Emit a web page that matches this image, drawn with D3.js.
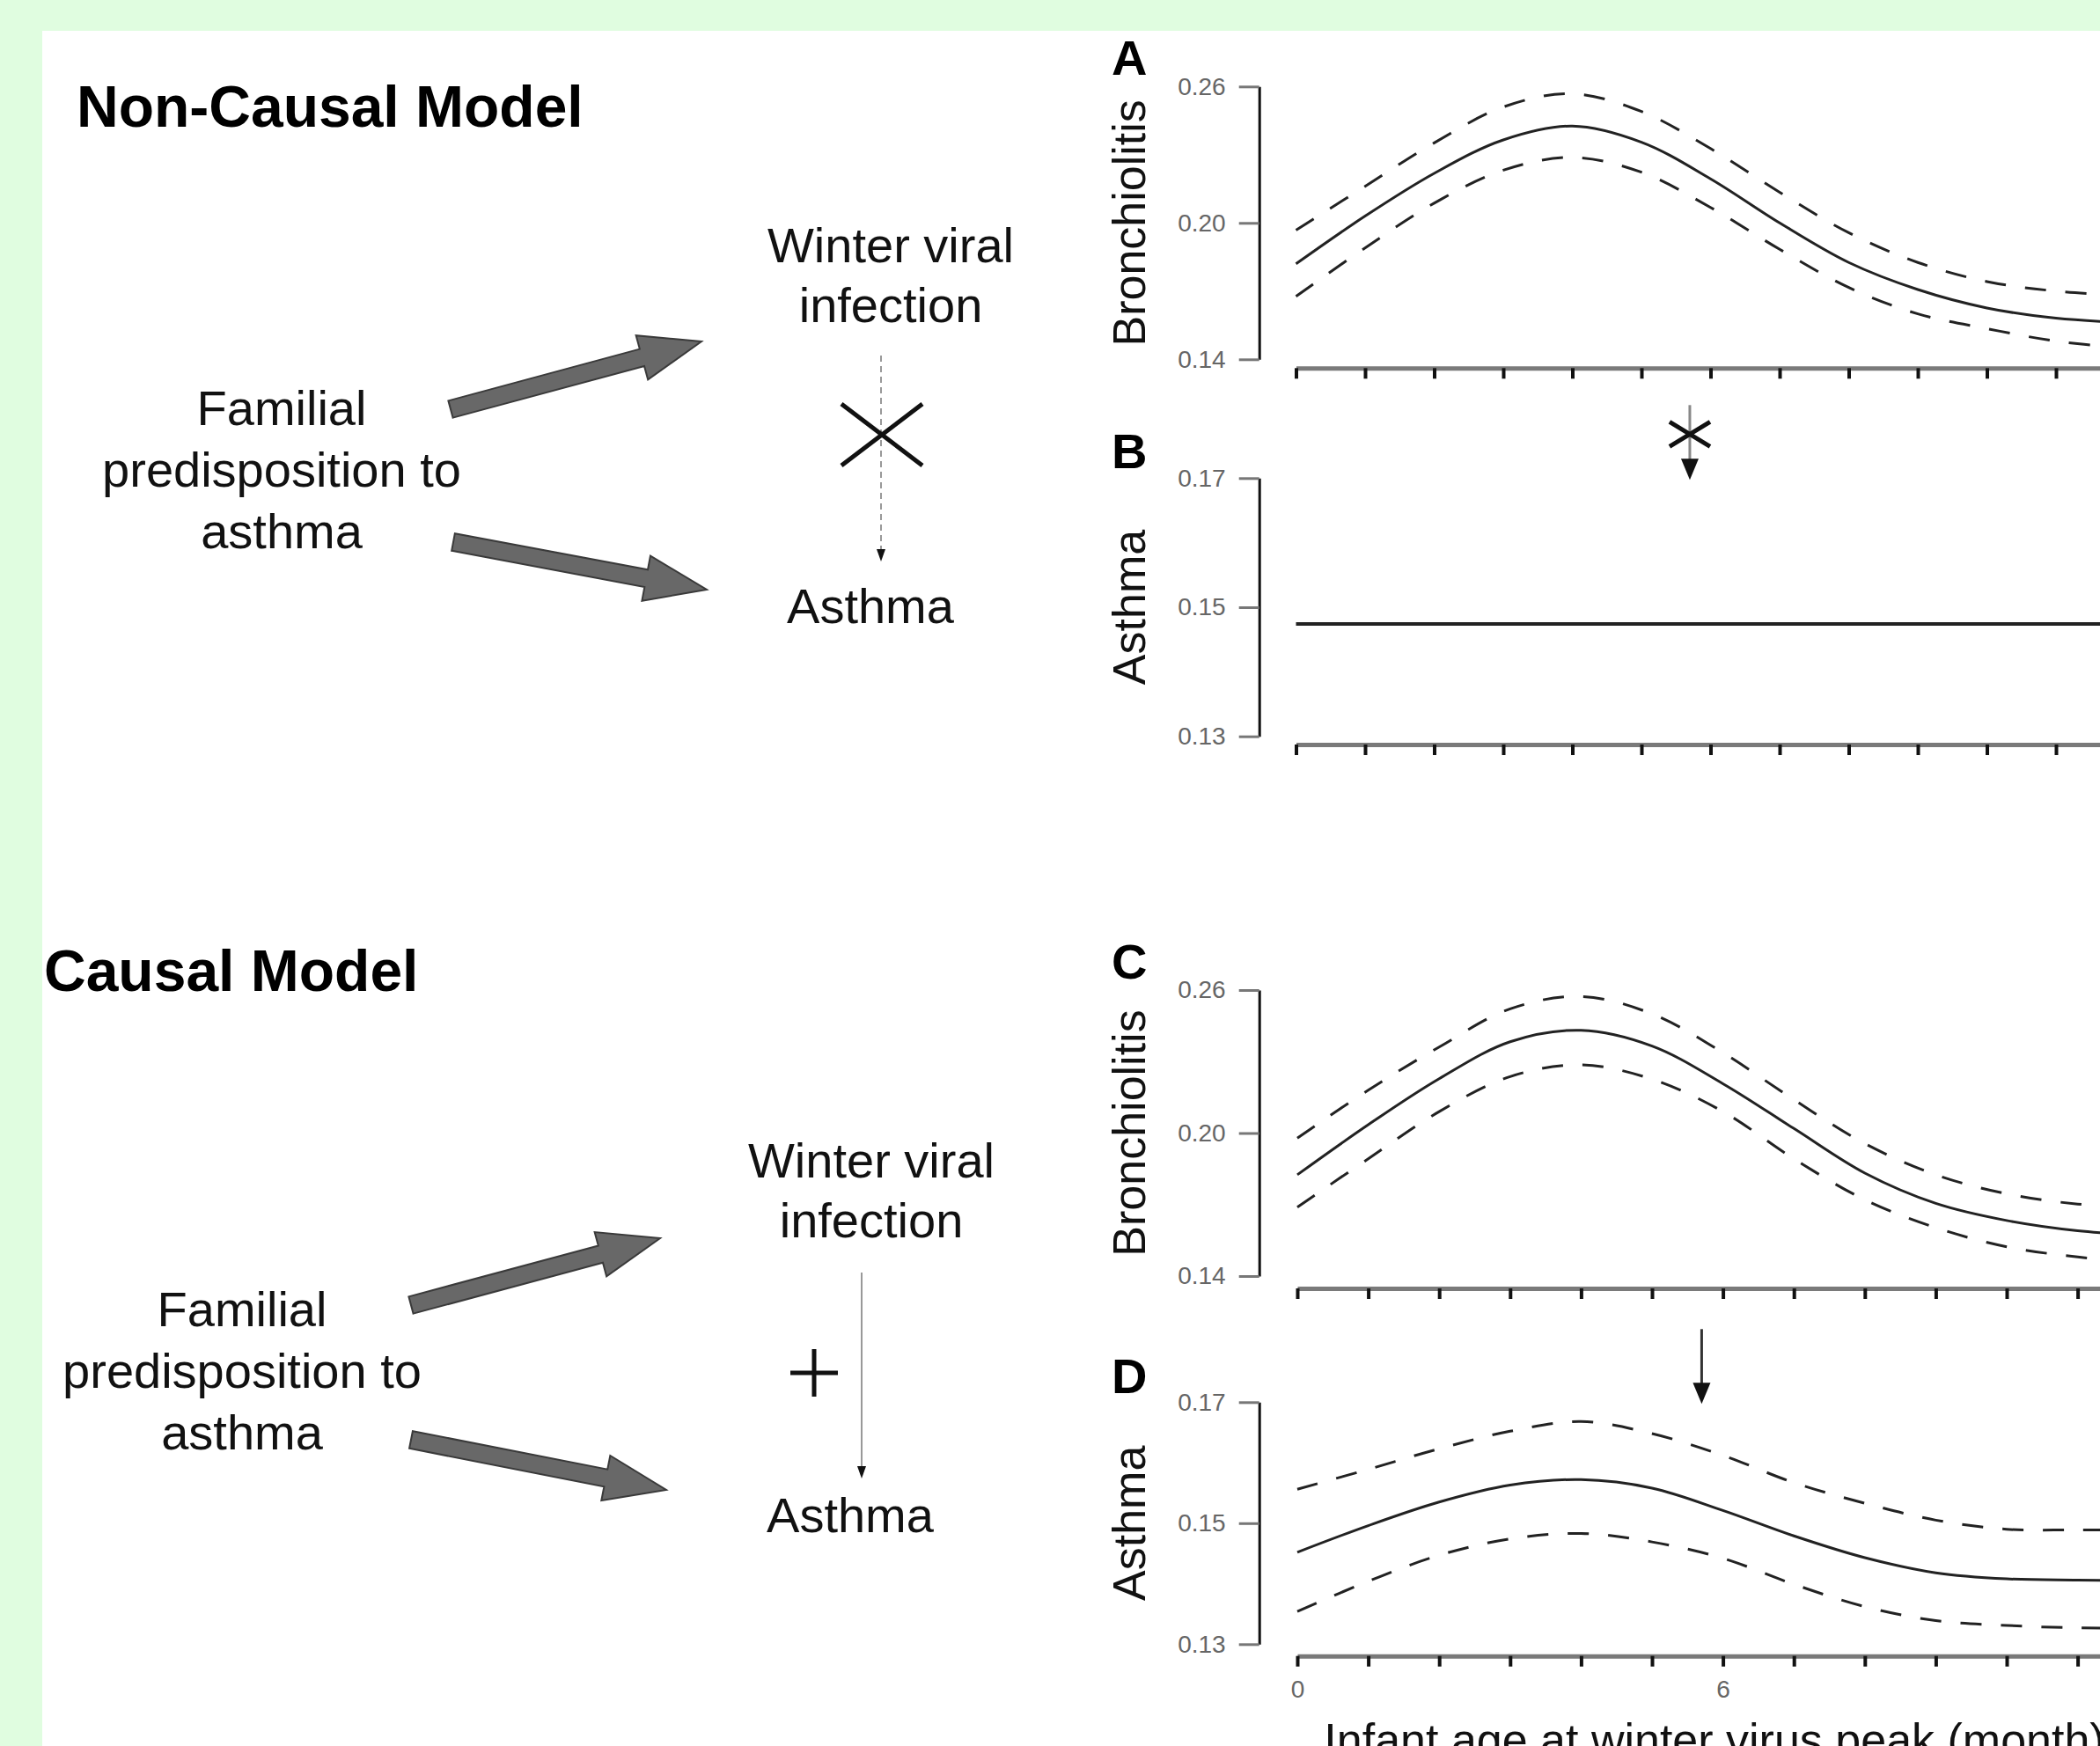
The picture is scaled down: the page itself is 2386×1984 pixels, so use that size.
<!DOCTYPE html>
<html>
<head>
<meta charset="utf-8">
<script src="https://cdn.jsdelivr.net/npm/d3@7"></script>
<style>
  html, body { margin: 0; padding: 0; background: #e0fde0; }
  svg { display: block; }
  text { font-family: "Liberation Sans", Arial, Helvetica, sans-serif; }
</style>
</head>
<body>
<div id="fig"></div>
<script>
// infant age at winter virus peak (months)
var months = [0, 1, 2, 3, 4, 5, 6, 7, 8, 9, 10, 11, 12]
var monthLabels = [0, 6]

// A: bronchiolitis, non-causal model (fit + dashed bounds)
var bronchA = [0.1820, 0.2030, 0.2218, 0.2365, 0.2426, 0.2355, 0.2194, 0.2000, 0.1826, 0.1707, 0.1626, 0.1581, 0.1562]
var bronchAUpper = [0.1968, 0.2161, 0.2352, 0.2510, 0.2568, 0.2490, 0.2327, 0.2135, 0.1957, 0.1826, 0.1742, 0.1700, 0.1680]
var bronchALower = [0.1677, 0.1890, 0.2087, 0.2232, 0.2288, 0.2223, 0.2068, 0.1884, 0.1716, 0.1600, 0.1535, 0.1480, 0.1450]

// B: asthma, non-causal model (flat)
var asthmaB = [0.1474, 0.1474, 0.1474, 0.1474, 0.1474, 0.1474, 0.1474, 0.1474, 0.1474, 0.1474, 0.1474, 0.1474, 0.1474]

// C: bronchiolitis, causal model
var bronchC = [0.1825, 0.2035, 0.2228, 0.2383, 0.2431, 0.2365, 0.2207, 0.2019, 0.1832, 0.1705, 0.1633, 0.1590, 0.1570]
var bronchCUpper = [0.1979, 0.2180, 0.2361, 0.2521, 0.2573, 0.2500, 0.2337, 0.2140, 0.1956, 0.1825, 0.1745, 0.1702, 0.1685]
var bronchCLower = [0.1689, 0.1892, 0.2090, 0.2237, 0.2286, 0.2226, 0.2090, 0.1892, 0.1720, 0.1603, 0.1523, 0.1480, 0.1455]

// D: asthma, causal model
var asthmaD = [0.1452, 0.1496, 0.1535, 0.1563, 0.1572, 0.1558, 0.1521, 0.1479, 0.1443, 0.1418, 0.1408, 0.1406, 0.1405]
var asthmaDUpper = [0.1556, 0.1589, 0.1623, 0.1652, 0.1668, 0.1648, 0.1612, 0.1567, 0.1533, 0.1505, 0.1490, 0.1489, 0.1489]
var asthmaDLower = [0.1354, 0.1404, 0.1447, 0.1474, 0.1483, 0.1469, 0.1442, 0.1399, 0.1362, 0.1339, 0.1331, 0.1327, 0.1326]

var bronchTicks = [0.14, 0.20, 0.26]
var asthmaTicks = [0.13, 0.15, 0.17]

// month of the winter virus peak marker
var peakMonth = 5.7

var width = 2386
var height = 1984

var svg = d3.select('#fig')
  .append('svg')
  .attr('width', width)
  .attr('height', height)

// white sheet over the green background
svg.append('rect')
  .attr('x', 48)
  .attr('y', 35)
  .attr('width', width - 48)
  .attr('height', height - 35)
  .attr('fill', '#ffffff')

var panels = [
  { letter: 'A', label: 'Bronchiolitis', ticks: bronchTicks, top: 98.3, bottom: 408.3, axisY: 418.3,
    x0: 1472.5, step: 78.5, fit: bronchA, upper: bronchAUpper, lower: bronchALower, letterY: 85, xLabels: false },
  { letter: 'B', label: 'Asthma', ticks: asthmaTicks, top: 543.3, bottom: 836.7, axisY: 846,
    x0: 1472.5, step: 78.5, fit: asthmaB, letterY: 532, xLabels: false, marker: 'cross' },
  { letter: 'C', label: 'Bronchiolitis', ticks: bronchTicks, top: 1125, bottom: 1450, axisY: 1464,
    x0: 1474, step: 80.6, fit: bronchC, upper: bronchCUpper, lower: bronchCLower, letterY: 1112, xLabels: false },
  { letter: 'D', label: 'Asthma', ticks: asthmaTicks, top: 1593.3, bottom: 1868.3, axisY: 1881.7,
    x0: 1474, step: 80.6, fit: asthmaD, upper: asthmaDUpper, lower: asthmaDLower, letterY: 1583, xLabels: true, marker: 'arrow' }
]

var axisX = 1430.7

panels.forEach(function (p) {
  var x = d3.scaleLinear()
    .domain([months[0], months[months.length - 1]])
    .range([p.x0, p.x0 + p.step * (months.length - 1)])
  var y = d3.scaleLinear()
    .domain([p.ticks[0], p.ticks[p.ticks.length - 1]])
    .range([p.bottom, p.top])

  // y axis: black spine, grey ticks and labels
  var ya = svg.append('g')
    .attr('transform', 'translate(' + axisX + ',0)')
    .call(d3.axisLeft(y)
      .tickValues(p.ticks)
      .tickFormat(d3.format('.2f'))
      .tickSize(23)
      .tickSizeOuter(0)
      .tickPadding(15))
  ya.select('.domain').attr('stroke', '#111').attr('stroke-width', 3)
  ya.selectAll('.tick line').attr('stroke', '#777').attr('stroke-width', 3)
  ya.selectAll('.tick text')
    .attr('fill', '#666')
    .style('font-size', '28px')
    .style('font-family', '"Liberation Sans", Arial, sans-serif')

  // x axis: thick grey line with small black ticks
  var xa = svg.append('g')
    .attr('transform', 'translate(0,' + p.axisY + ')')
    .call(d3.axisBottom(x)
      .tickValues(months)
      .tickSize(12)
      .tickSizeOuter(0)
      .tickPadding(15)
      .tickFormat(function (d) {
        return p.xLabels && monthLabels.indexOf(d) >= 0 ? d : ''
      }))
  xa.select('.domain').attr('stroke', '#7a7a7a').attr('stroke-width', 5)
  xa.selectAll('.tick line').attr('stroke', '#111').attr('stroke-width', 4)
  xa.selectAll('.tick text')
    .attr('fill', '#666')
    .style('font-size', '28px')
    .style('font-family', '"Liberation Sans", Arial, sans-serif')

  var line = d3.line()
    .x(function (d, i) { return x(months[i]) })
    .y(function (d) { return y(d) })
    .curve(d3.curveCatmullRom)

  if (p.upper) {
    [p.upper, p.lower].forEach(function (s) {
      svg.append('path')
        .datum(s)
        .attr('d', line)
        .attr('fill', 'none')
        .attr('stroke', '#222')
        .attr('stroke-width', 3)
        .attr('stroke-dasharray', '24,22')
    })
  }
  svg.append('path')
    .datum(p.fit)
    .attr('d', line)
    .attr('fill', 'none')
    .attr('stroke', '#222')
    .attr('stroke-width', p.upper ? 3 : 4)

  // panel letter
  svg.append('text')
    .attr('x', 1263)
    .attr('y', p.letterY)
    .attr('font-size', 56)
    .attr('font-weight', 'bold')
    .attr('fill', '#000')
    .text(p.letter)

  // y label
  svg.append('text')
    .attr('transform', 'translate(1301,' + ((p.top + p.bottom) / 2) + ') rotate(-90)')
    .attr('text-anchor', 'middle')
    .attr('font-size', 52)
    .attr('fill', '#111')
    .text(p.label)

  // winter virus peak marker
  if (p.marker) {
    var mx = x(peakMonth)
    var tipY = p.top + 2
    svg.append('line')
      .attr('x1', mx).attr('x2', mx)
      .attr('y1', tipY - 85).attr('y2', tipY - 18)
      .attr('stroke', p.marker === 'cross' ? '#888' : '#333')
      .attr('stroke-width', 3)
    svg.append('path')
      .attr('d', 'M' + (mx - 10) + ',' + (tipY - 24) + 'L' + (mx + 10) + ',' + (tipY - 24) + 'L' + mx + ',' + tipY + 'Z')
      .attr('fill', '#111')
    if (p.marker === 'cross') {
      var cy = tipY - 52
      svg.append('path')
        .attr('d', 'M' + (mx - 23) + ',' + (cy - 14) + 'L' + (mx + 23) + ',' + (cy + 14) +
                   'M' + (mx - 23) + ',' + (cy + 14) + 'L' + (mx + 23) + ',' + (cy - 14))
        .attr('stroke', '#111')
        .attr('stroke-width', 5)
    }
  }

  if (p.xLabels) {
    svg.append('text')
      .attr('x', 1948)
      .attr('y', 1995)
      .attr('text-anchor', 'middle')
      .attr('font-size', 52)
      .attr('fill', '#111')
      .text('Infant age at winter virus peak (month)')
  }
})

// ---- left-hand diagrams ----
function fatArrow (t, p) {
  var dx = p[0] - t[0]
  var dy = p[1] - t[1]
  var len = Math.hypot(dx, dy)
  var ux = dx / len
  var uy = dy / len
  var nx = -uy
  var ny = ux
  var w = 10
  var h = 26
  var L = 70
  var bx = p[0] - ux * L
  var by = p[1] - uy * L
  return [[t[0] + nx * w, t[1] + ny * w], [bx + nx * w, by + ny * w], [bx + nx * h, by + ny * h], p,
          [bx - nx * h, by - ny * h], [bx - nx * w, by - ny * w], [t[0] - nx * w, t[1] - ny * w]]
}

var diagrams = [
  { title: 'Non-Causal Model', titleX: 87, titleY: 144,
    famX: 320, famY: 483, virusX: 1012, virusY: 298, asthmaX: 989, asthmaY: 708,
    up: [[512, 465], [797, 388]], down: [[515, 616], [803, 670]],
    linkX: 1001, linkY1: 404, linkY2: 638, causal: false, signX: 1002, signY: 494 },
  { title: 'Causal Model', titleX: 50, titleY: 1126,
    famX: 275, famY: 1507, virusX: 990, virusY: 1338, asthmaX: 966, asthmaY: 1741,
    up: [[467, 1483], [750, 1407]], down: [[467, 1636], [757, 1693]],
    linkX: 979, linkY1: 1446, linkY2: 1680, causal: true, signX: 925, signY: 1560 }
]

diagrams.forEach(function (g) {
  svg.append('text')
    .attr('x', g.titleX)
    .attr('y', g.titleY)
    .attr('font-size', 66)
    .attr('font-weight', 'bold')
    .attr('fill', '#000')
    .text(g.title)

  var lines = [
    { x: g.famX, y: g.famY, t: 'Familial' },
    { x: g.famX, y: g.famY + 70, t: 'predisposition to' },
    { x: g.famX, y: g.famY + 140, t: 'asthma' },
    { x: g.virusX, y: g.virusY, t: 'Winter viral' },
    { x: g.virusX, y: g.virusY + 68, t: 'infection' },
    { x: g.asthmaX, y: g.asthmaY, t: 'Asthma' }
  ]
  svg.selectAll(null)
    .data(lines)
    .enter()
    .append('text')
    .attr('x', function (d) { return d.x })
    .attr('y', function (d) { return d.y })
    .attr('text-anchor', 'middle')
    .attr('font-size', 56)
    .attr('fill', '#111')
    .text(function (d) { return d.t })

  ;[g.up, g.down].forEach(function (a) {
    svg.append('polygon')
      .attr('points', fatArrow(a[0], a[1]).map(function (q) { return q.join(',') }).join(' '))
      .attr('fill', '#686868')
      .attr('stroke', '#3a3a3a')
      .attr('stroke-width', 2)
      .attr('stroke-linejoin', 'miter')
  })

  svg.append('line')
    .attr('x1', g.linkX).attr('x2', g.linkX)
    .attr('y1', g.linkY1).attr('y2', g.linkY2 - 10)
    .attr('stroke', '#999')
    .attr('stroke-width', 2)
    .attr('stroke-dasharray', g.causal ? null : '7,5')
  svg.append('path')
    .attr('d', 'M' + (g.linkX - 5) + ',' + (g.linkY2 - 14) + 'L' + (g.linkX + 5) + ',' + (g.linkY2 - 14) +
               'L' + g.linkX + ',' + g.linkY2 + 'Z')
    .attr('fill', '#111')

  if (g.causal) {
    svg.append('path')
      .attr('d', 'M' + (g.signX - 27) + ',' + g.signY + 'H' + (g.signX + 27) +
                 'M' + g.signX + ',' + (g.signY - 27) + 'V' + (g.signY + 27))
      .attr('stroke', '#111')
      .attr('stroke-width', 5)
  } else {
    svg.append('path')
      .attr('d', 'M' + (g.signX - 46) + ',' + (g.signY - 35) + 'L' + (g.signX + 46) + ',' + (g.signY + 35) +
                 'M' + (g.signX - 46) + ',' + (g.signY + 35) + 'L' + (g.signX + 46) + ',' + (g.signY - 35))
      .attr('stroke', '#111')
      .attr('stroke-width', 5)
  }
})
</script>
</body>
</html>
